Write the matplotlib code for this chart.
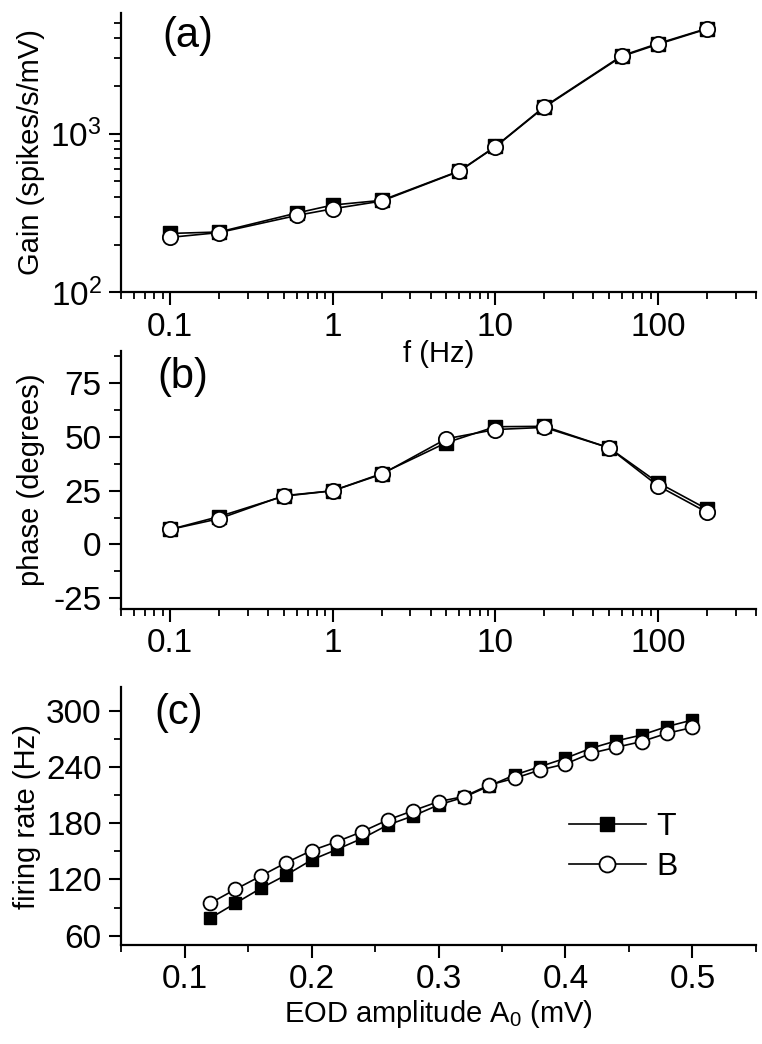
#!/usr/bin/env python3
import matplotlib
matplotlib.use('Agg')
import numpy as np
import matplotlib.pyplot as plt
from matplotlib.ticker import LogLocator, NullFormatter, MultipleLocator, FixedLocator, FuncFormatter

plt.rcParams['font.family'] = ['Liberation Sans', 'DejaVu Sans']
plt.rcParams['mathtext.fontset'] = 'custom'
plt.rcParams['mathtext.rm'] = 'Liberation Sans'
plt.rcParams['mathtext.it'] = 'Liberation Sans'

# (a) gain vs frequency
gain_f = [0.1, 0.2, 0.6, 1, 2, 6, 10, 20, 60, 100, 200]
gain_T = [235, 240, 316, 355, 380, 582, 830, 1480, 3100, 3700, 4600]
gain_B = [222, 238, 305, 336, 376, 579, 826, 1468, 3070, 3660, 4570]

# (b) phase vs frequency
phase_f = [0.1, 0.2, 0.5, 1, 2, 5, 10, 20, 50, 100, 200]
phase_T = [7, 13, 22.5, 25, 33, 47.4, 54.8, 55, 45, 28.8, 16.5]
phase_B = [7, 12, 22.7, 25, 32.7, 49.2, 53.5, 54.5, 45, 27.3, 15]

# (c) firing rate vs EOD amplitude
amp = [0.12, 0.14, 0.16, 0.18, 0.20, 0.22, 0.24, 0.26, 0.28, 0.30,
       0.32, 0.34, 0.36, 0.38, 0.40, 0.42, 0.44, 0.46, 0.48, 0.50]
rate_T = [78.5, 94.5, 110.5, 124.7, 140.7, 152, 163.8, 178, 187.7, 199.4,
          207.6, 219.7, 231.4, 240.3, 249.2, 259.8, 267.7, 274, 283, 290]
rate_B = [94.5, 109.4, 123.6, 137.9, 150.7, 160.3, 171, 183.4, 193.3, 203,
          208.3, 220.7, 227.8, 236.7, 243.1, 254.5, 260.9, 267, 275.8, 282]

fig = plt.figure(figsize=(7.62, 10.44), dpi=100)
left, width = 0.159, 0.833
ax_a = fig.add_axes([left, 0.720, width, 0.268])
ax_b = fig.add_axes([left, 0.4167, width, 0.247])
ax_c = fig.add_axes([left, 0.0948, width, 0.247])
for ax in (ax_a, ax_b, ax_c):
    ax.patch.set_visible(False)

tick_fs = 24
label_fs = 21
panel_fs = 30


def style(ax):
    for s in ['top', 'right']:
        ax.spines[s].set_visible(False)
    for s in ['left', 'bottom']:
        ax.spines[s].set_linewidth(1.6)
    ax.tick_params(which='major', direction='out', length=9, width=1.5,
                   labelsize=tick_fs, pad=5)
    ax.tick_params(which='minor', direction='out', length=5, width=1.3)


def plot_pair(ax, x, yT, yB, ms_sq, ms_ci):
    ax.plot(x, yT, '-', color='black', lw=1.2, marker='s', ms=ms_sq,
            mfc='black', mec='black', label='T', zorder=3)
    ax.plot(x, yB, '-', color='black', lw=1.2, marker='o', ms=ms_ci,
            mfc='white', mec='black', mew=1.3, label='B', zorder=4)


# panel (a)
plot_pair(ax_a, gain_f, gain_T, gain_B, 9.5, 11)
ax_a.set_xscale('log')
ax_a.set_yscale('log')
ax_a.set_xlim(0.05, 400)
ax_a.set_ylim(100, 5800)
ax_a.xaxis.set_major_locator(FixedLocator([0.1, 1, 10, 100]))
ax_a.set_xticklabels(['0.1', '1', '10', '100'])
ax_a.xaxis.set_minor_locator(LogLocator(base=10, subs=np.arange(2, 10)))
ax_a.xaxis.set_minor_formatter(NullFormatter())
ax_a.yaxis.set_minor_locator(LogLocator(base=10, subs=np.arange(2, 10)))
ax_a.yaxis.set_minor_formatter(NullFormatter())
style(ax_a)
ax_a.set_ylabel('Gain (spikes/s/mV)', fontsize=label_fs, labelpad=4)
ax_a.set_xlabel('f (Hz)', fontsize=label_fs, labelpad=-2)
ax_a.text(0.065, 0.915, '(a)', transform=ax_a.transAxes, fontsize=panel_fs,
          va='center', ha='left')

# panel (b)
plot_pair(ax_b, phase_f, phase_T, phase_B, 9.5, 11)
ax_b.set_xscale('log')
ax_b.set_xlim(0.05, 400)
ax_b.set_ylim(-30, 90)
ax_b.xaxis.set_major_locator(FixedLocator([0.1, 1, 10, 100]))
ax_b.set_xticklabels(['0.1', '1', '10', '100'])
ax_b.xaxis.set_minor_locator(LogLocator(base=10, subs=np.arange(2, 10)))
ax_b.xaxis.set_minor_formatter(NullFormatter())
ax_b.yaxis.set_major_locator(MultipleLocator(25))
ax_b.yaxis.set_minor_locator(MultipleLocator(12.5))
ax_b.yaxis.set_major_formatter(FuncFormatter(lambda v, p: f'{v:g}'))
style(ax_b)
ax_b.set_ylabel('phase (degrees)', fontsize=label_fs, labelpad=6)
ax_b.text(0.057, 0.9, '(b)', transform=ax_b.transAxes, fontsize=panel_fs,
          va='center', ha='left')

# panel (c)
plot_pair(ax_c, amp, rate_T, rate_B, 9, 10)
ax_c.set_xlim(0.05, 0.55)
ax_c.set_ylim(50, 325)
ax_c.xaxis.set_major_locator(FixedLocator([0.1, 0.2, 0.3, 0.4, 0.5]))
ax_c.xaxis.set_minor_locator(MultipleLocator(0.05))
ax_c.yaxis.set_major_locator(MultipleLocator(60))
ax_c.yaxis.set_minor_locator(MultipleLocator(30))
style(ax_c)
ax_c.set_ylabel('firing rate (Hz)', fontsize=label_fs, labelpad=4)
ax_c.set_xlabel(r'EOD amplitude A$_0$ (mV)', fontsize=label_fs, labelpad=2)
ax_c.text(0.053, 0.9, '(c)', transform=ax_c.transAxes, fontsize=panel_fs,
          va='center', ha='left')
ax_c.legend(loc='center left', bbox_to_anchor=(0.66, 0.38), frameon=False,
            fontsize=label_fs + 2, handlelength=2.4, labelspacing=0.3,
            handletextpad=0.35, markerscale=1.15)

fig.savefig('out.png', dpi=100)
